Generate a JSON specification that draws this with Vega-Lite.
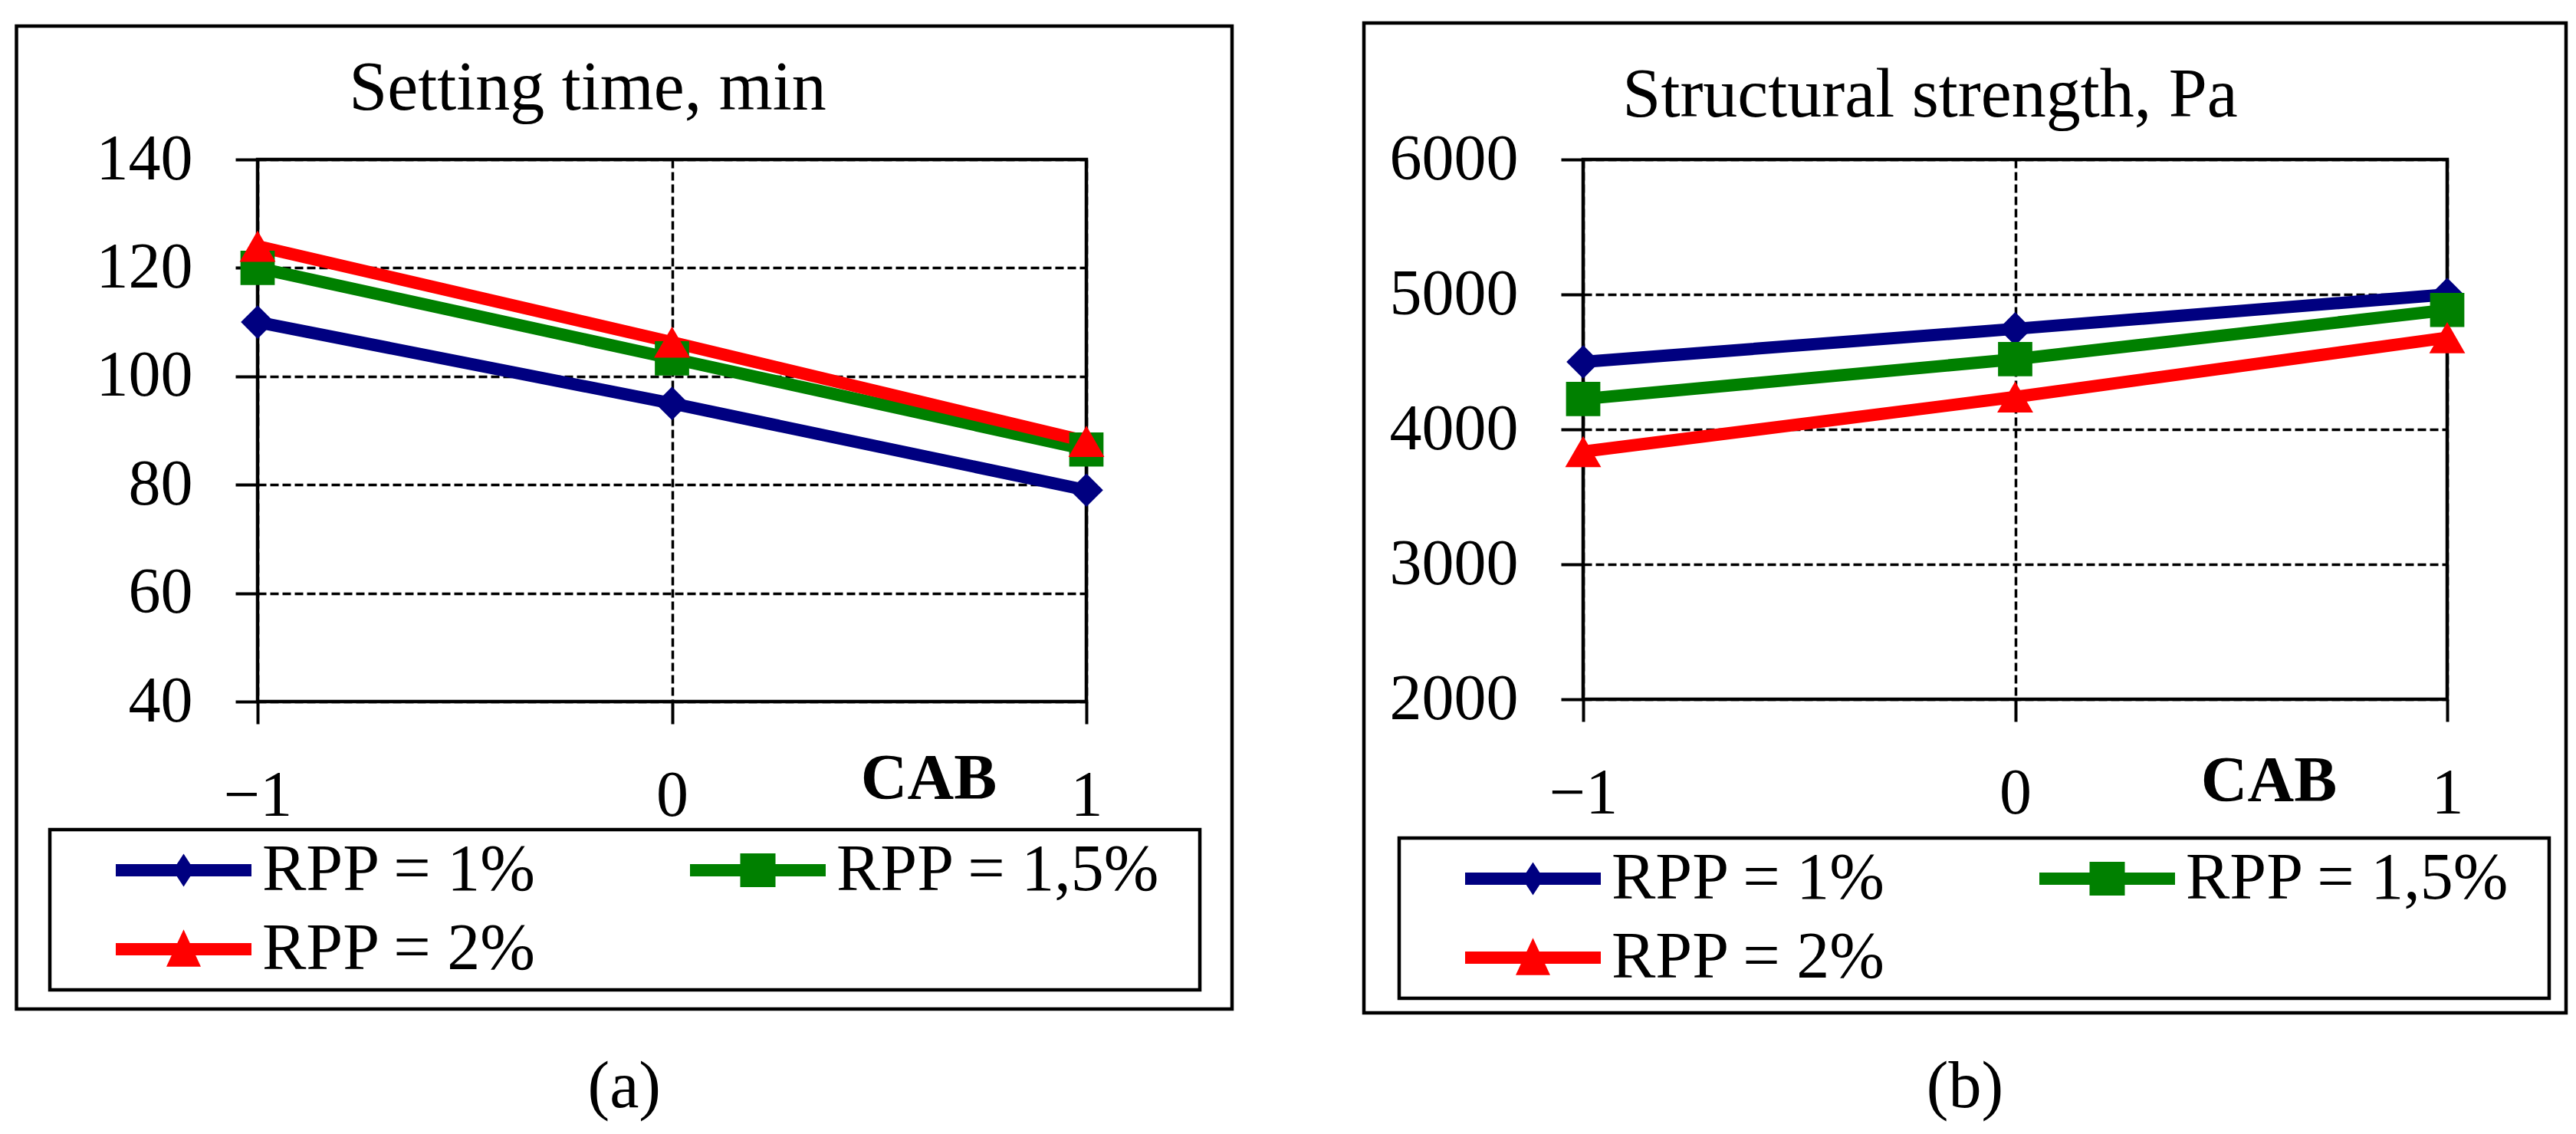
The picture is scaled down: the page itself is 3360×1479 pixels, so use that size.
{
  "$schema": "https://vega.github.io/schema/vega-lite/v6.json",
  "padding": {"left": 17, "top": 25, "right": 5, "bottom": 5},
  "background": "white",
  "config": {
    "font": "Liberation Serif",
    "view": {"stroke": "black", "strokeWidth": 4.5},
    "axis": {
      "labelFont": "Liberation Serif",
      "labelFontSize": 84,
      "labelColor": "black",
      "labelLimit": 1000,
      "labelFlush": false,
      "labelOverlap": false,
      "tickColor": "black",
      "tickWidth": 4,
      "tickSize": 29,
      "gridColor": "black",
      "gridWidth": 3.5,
      "gridDash": [11, 5],
      "gridOpacity": 1,
      "domain": false,
      "titleFont": "Liberation Serif",
      "titleColor": "black",
      "titleLimit": 3000
    },
    "legend": {
      "labelFont": "Liberation Serif",
      "labelFontSize": 86,
      "labelColor": "black",
      "labelOffset": 59.5,
      "labelLimit": 2000,
      "symbolSize": 7396,
      "symbolOffset": 121.5,
      "symbolStrokeWidth": 0,
      "columnPadding": 18,
      "rowPadding": 17,
      "padding": 10,
      "strokeColor": "black",
      "fillColor": "white"
    },
    "title": {"font": "Liberation Serif", "fontSize": 86, "fontWeight": "normal", "color": "black"}
  },
  "datasets": {
    "setting": [
      {"CAB": -1, "value": 110, "series": "RPP = 1%"},
      {"CAB": 0, "value": 95, "series": "RPP = 1%"},
      {"CAB": 1, "value": 79, "series": "RPP = 1%"},
      {"CAB": -1, "value": 120, "series": "RPP = 1,5%"},
      {"CAB": 0, "value": 103.3, "series": "RPP = 1,5%"},
      {"CAB": 1, "value": 86.5, "series": "RPP = 1,5%"},
      {"CAB": -1, "value": 124, "series": "RPP = 2%"},
      {"CAB": 0, "value": 106.3, "series": "RPP = 2%"},
      {"CAB": 1, "value": 88, "series": "RPP = 2%"}
    ],
    "strength": [
      {"CAB": -1, "value": 4500, "series": "RPP = 1%"},
      {"CAB": 0, "value": 4745, "series": "RPP = 1%"},
      {"CAB": 1, "value": 5000, "series": "RPP = 1%"},
      {"CAB": -1, "value": 4225, "series": "RPP = 1,5%"},
      {"CAB": 0, "value": 4520, "series": "RPP = 1,5%"},
      {"CAB": 1, "value": 4885, "series": "RPP = 1,5%"},
      {"CAB": -1, "value": 3835, "series": "RPP = 2%"},
      {"CAB": 0, "value": 4240, "series": "RPP = 2%"},
      {"CAB": 1, "value": 4680, "series": "RPP = 2%"}
    ]
  },
  "spacing": 162,
  "resolve": {"scale": {"color": "independent"}, "legend": {"color": "independent"}},
  "hconcat": [
    {
      "width": 1081,
      "height": 707,
      "title": {"text": "(a)", "orient": "bottom", "anchor": "middle", "frame": "bounds", "offset": 58},
      "data": {"name": "setting"},
      "encoding": {
        "color": {"field": "series", "type": "nominal",
          "scale": {"domain": ["RPP = 1%", "RPP = 1,5%", "RPP = 2%"], "range": ["#000080", "#008000", "#ff0000"]},
          "legend": {"title": null, "orient": "none", "legendX": -271, "legendY": 874, "direction": "horizontal", "columns": 2,
            "encode": {
              "symbols": {"update": {
                "shape": {"signal": "datum.index === 0 ? 'M13.17,0M-2.058,-0.186L2.058,-0.186L2.058,0.186L-2.058,0.186ZM0,-0.5L0.326,0L0,0.5L-0.326,0Z' : datum.index === 1 ? 'M13.17,0M-2.058,-0.186L2.058,-0.186L2.058,0.186L-2.058,0.186ZM-0.535,-0.51L0.535,-0.51L0.535,0.51L-0.535,0.51Z' : 'M13.17,0M-2.058,-0.186L2.058,-0.186L2.058,0.186L-2.058,0.186ZM0,-0.598L0.523,0.528L-0.523,0.528Z'"},
                "fill": {"signal": "datum.index === 0 ? '#000080' : datum.index === 1 ? '#008000' : '#ff0000'"},
                "strokeWidth": {"value": 0},
                "opacity": {"value": 1}
              }},
              "legend": {"update": {"strokeWidth": {"value": 4.5}}}
            }}}
      },
      "layer": [
        {
          "data": {"values": [{}]},
          "mark": {"type": "rect", "fill": "transparent", "stroke": "black", "strokeWidth": 4.5},
          "encoding": {"x": {"value": -314.5}, "x2": {"value": 1271}, "y": {"value": -174}, "y2": {"value": 1108}, "color": {"value": "black"}}
        },
        {
          "mark": {"type": "line", "strokeWidth": 16},
          "encoding": {
            "x": {"field": "CAB", "type": "quantitative", "scale": {"domain": [-1, 1], "nice": false},
              "axis": {"values": [-1, 0, 1], "labelExpr": "format(datum.value, 'd')", "grid": true, "labelPadding": 53, "title": "CAB", "titleFontWeight": "bold", "titleFontSize": 84, "titleX": 875, "titleY": 126, "titleAlign": "center", "titleBaseline": "alphabetic"}},
            "y": {"field": "value", "type": "quantitative", "scale": {"domain": [40, 140], "nice": false, "zero": false},
              "axis": {"values": [40, 60, 80, 100, 120, 140], "grid": true, "labelPadding": 56, "title": "Setting time, min", "titleAngle": 0, "titleFontSize": 90, "titleFontWeight": "normal", "titleX": 430, "titleY": -66, "titleAlign": "center", "titleBaseline": "alphabetic"}}
          }
        },
        {"transform": [{"filter": {"field": "series", "equal": "RPP = 1%"}}], "mark": {"type": "point", "shape": "diamond", "filled": true, "size": 1900, "opacity": 1, "strokeWidth": 0},
          "encoding": {"x": {"field": "CAB", "type": "quantitative"}, "y": {"field": "value", "type": "quantitative"}}},
        {"transform": [{"filter": {"field": "series", "equal": "RPP = 1,5%"}}], "mark": {"type": "point", "shape": "square", "filled": true, "size": 2000, "opacity": 1, "strokeWidth": 0},
          "encoding": {"x": {"field": "CAB", "type": "quantitative"}, "y": {"field": "value", "type": "quantitative"}}},
        {"transform": [{"filter": {"field": "series", "equal": "RPP = 2%"}}], "mark": {"type": "point", "shape": "triangle-up", "filled": true, "size": 2200, "opacity": 1, "strokeWidth": 0},
          "encoding": {"x": {"field": "CAB", "type": "quantitative"}, "y": {"field": "value", "type": "quantitative"}}}
      ]
    },
    {
      "width": 1127,
      "height": 704,
      "title": {"text": "(b)", "orient": "bottom", "anchor": "middle", "frame": "bounds", "offset": 53},
      "data": {"name": "strength"},
      "encoding": {
        "color": {"field": "series", "type": "nominal",
          "scale": {"domain": ["RPP = 1%", "RPP = 1,5%", "RPP = 2%"], "range": ["#000080", "#008000", "#ff0000"]},
          "legend": {"title": null, "orient": "none", "legendX": -240, "legendY": 885, "direction": "horizontal", "columns": 2,
            "encode": {
              "symbols": {"update": {
                "shape": {"signal": "datum.index === 0 ? 'M13.17,0M-2.058,-0.186L2.058,-0.186L2.058,0.186L-2.058,0.186ZM0,-0.5L0.326,0L0,0.5L-0.326,0Z' : datum.index === 1 ? 'M13.17,0M-2.058,-0.186L2.058,-0.186L2.058,0.186L-2.058,0.186ZM-0.535,-0.51L0.535,-0.51L0.535,0.51L-0.535,0.51Z' : 'M13.17,0M-2.058,-0.186L2.058,-0.186L2.058,0.186L-2.058,0.186ZM0,-0.598L0.523,0.528L-0.523,0.528Z'"},
                "fill": {"signal": "datum.index === 0 ? '#000080' : datum.index === 1 ? '#008000' : '#ff0000'"},
                "strokeWidth": {"value": 0},
                "opacity": {"value": 1}
              }},
              "legend": {"update": {"strokeWidth": {"value": 4.5}}}
            }}}
      },
      "layer": [
        {
          "data": {"values": [{}]},
          "mark": {"type": "rect", "fill": "transparent", "stroke": "black", "strokeWidth": 4.5},
          "encoding": {"x": {"value": -286}, "x2": {"value": 1282}, "y": {"value": -178}, "y2": {"value": 1113}, "color": {"value": "black"}}
        },
        {
          "mark": {"type": "line", "strokeWidth": 16},
          "encoding": {
            "x": {"field": "CAB", "type": "quantitative", "scale": {"domain": [-1, 1], "nice": false},
              "axis": {"values": [-1, 0, 1], "labelExpr": "format(datum.value, 'd')", "grid": true, "labelPadding": 53, "title": "CAB", "titleFontWeight": "bold", "titleFontSize": 84, "titleX": 894, "titleY": 132, "titleAlign": "center", "titleBaseline": "alphabetic"}},
            "y": {"field": "value", "type": "quantitative", "scale": {"domain": [2000, 6000], "nice": false, "zero": false},
              "axis": {"values": [2000, 3000, 4000, 5000, 6000], "format": "d", "grid": true, "labelPadding": 56, "title": "Structural strength, Pa", "titleAngle": 0, "titleFontSize": 90, "titleFontWeight": "normal", "titleX": 452, "titleY": -57, "titleAlign": "center", "titleBaseline": "alphabetic"}}
          }
        },
        {"transform": [{"filter": {"field": "series", "equal": "RPP = 1%"}}], "mark": {"type": "point", "shape": "diamond", "filled": true, "size": 1900, "opacity": 1, "strokeWidth": 0},
          "encoding": {"x": {"field": "CAB", "type": "quantitative"}, "y": {"field": "value", "type": "quantitative"}}},
        {"transform": [{"filter": {"field": "series", "equal": "RPP = 1,5%"}}], "mark": {"type": "point", "shape": "square", "filled": true, "size": 2000, "opacity": 1, "strokeWidth": 0},
          "encoding": {"x": {"field": "CAB", "type": "quantitative"}, "y": {"field": "value", "type": "quantitative"}}},
        {"transform": [{"filter": {"field": "series", "equal": "RPP = 2%"}}], "mark": {"type": "point", "shape": "triangle-up", "filled": true, "size": 2200, "opacity": 1, "strokeWidth": 0},
          "encoding": {"x": {"field": "CAB", "type": "quantitative"}, "y": {"field": "value", "type": "quantitative"}}}
      ]
    }
  ]
}
